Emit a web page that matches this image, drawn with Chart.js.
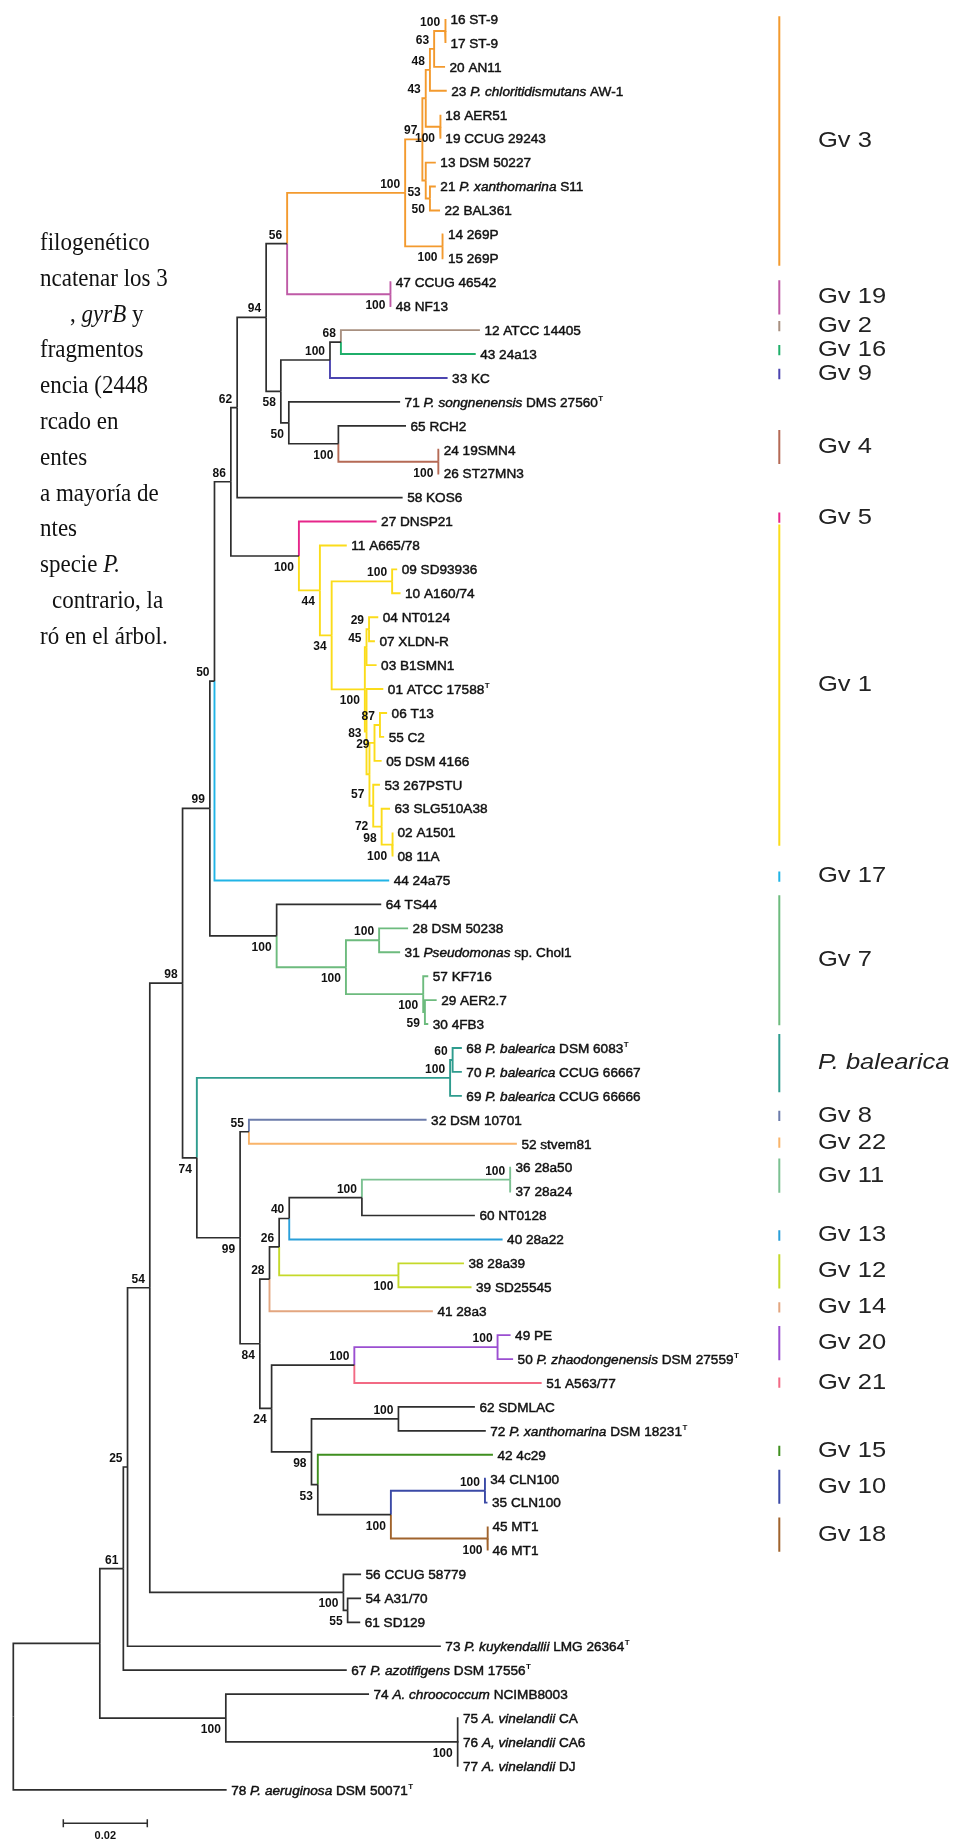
<!DOCTYPE html>
<html>
<head>
<meta charset="utf-8">
<script src="https://cdn.jsdelivr.net/npm/chart.js@4.4.1/dist/chart.umd.min.js"></script>
<style>
  html, body { margin: 0; padding: 0; background: #fff; }
  #wrap { position: relative; width: 959px; height: 1841px; }
</style>
</head>
<body>
<div id="wrap"><canvas id="tree"></canvas></div>
<script>
// Hojas del árbol, de arriba abajo (_cursiva_, ^T = cepa tipo)
const leafNames = [
  '16 ST-9', '17 ST-9', '20 AN11', '23 _P. chloritidismutans_ AW-1', '18 AER51',
  '19 CCUG 29243', '13 DSM 50227', '21 _P. xanthomarina_ S11', '22 BAL361', '14 269P',
  '15 269P', '47 CCUG 46542', '48 NF13', '12 ATCC 14405', '43 24a13',
  '33 KC', '71 _P. songnenensis_ DMS 27560^T', '65 RCH2', '24 19SMN4', '26 ST27MN3',
  '58 KOS6', '27 DNSP21', '11 A665/78', '09 SD93936', '10 A160/74',
  '04 NT0124', '07 XLDN-R', '03 B1SMN1', '01 ATCC 17588^T', '06 T13',
  '55 C2', '05 DSM 4166', '53 267PSTU', '63 SLG510A38', '02 A1501',
  '08 11A', '44 24a75', '64 TS44', '28 DSM 50238', '31 _Pseudomonas_ sp. Chol1',
  '57 KF716', '29 AER2.7', '30 4FB3', '68 _P. balearica_ DSM 6083^T', '70 _P. balearica_ CCUG 66667',
  '69 _P. balearica_ CCUG 66666', '32 DSM 10701', '52 stvem81', '36 28a50', '37 28a24',
  '60 NT0128', '40 28a22', '38 28a39', '39 SD25545', '41 28a3',
  '49 PE', '50 _P. zhaodongenensis_ DSM 27559^T', '51 A563/77', '62 SDMLAC', '72 _P. xanthomarina_ DSM 18231^T',
  '42 4c29', '34 CLN100', '35 CLN100', '45 MT1', '46 MT1',
  '56 CCUG 58779', '54 A31/70', '61 SD129', '73 _P. kuykendallii_ LMG 26364^T', '67 _P. azotifigens_ DSM 17556^T',
  '74 _A. chroococcum_ NCIMB8003', '75 _A. vinelandii_ CA', '76 _A, vinelandii_ CA6', '77 _A. vinelandii_ DJ', '78 _P. aeruginosa_ DSM 50071^T'
];

// Distancia acumulada desde la raíz de cada hoja
const leafDist = [
  0.1030, 0.1030, 0.1028, 0.1032, 0.1018, 0.1018, 0.1006, 0.1006, 0.1016, 0.1024,
  0.1024, 0.0900, 0.0900, 0.1111, 0.1101, 0.1034, 0.0921, 0.0935, 0.1014, 0.1014,
  0.0927, 0.0865, 0.0794, 0.0914, 0.0922, 0.0869, 0.0861, 0.0865, 0.0881, 0.0890,
  0.0883, 0.0877, 0.0873, 0.0897, 0.0904, 0.0904, 0.0895, 0.0876, 0.0940, 0.0921,
  0.0988, 0.1008, 0.0988, 0.1068, 0.1068, 0.1068, 0.0984, 0.1199, 0.1185, 0.1185,
  0.1099, 0.1165, 0.1073, 0.1091, 0.0999, 0.1184, 0.1190, 0.1258, 0.1099, 0.1125,
  0.1142, 0.1125, 0.1129, 0.1130, 0.1130, 0.0828, 0.0828, 0.0826, 0.1018, 0.0794,
  0.0847, 0.1060, 0.1060, 0.1060, 0.0508
];

// Nodos internos: id, distancia, hijos (número = hoja), bootstrap
const nodes = [
  ['A', 0.1028, [0, 1], 100], ['B', 0.1002, ['A', 2], 63], ['C', 0.0992, ['B', 3], 48],
  ['E', 0.1016, [4, 5], 100], ['D', 0.0982, ['C', 'E'], 43], ['I', 0.0992, [7, 8], 50],
  ['H', 0.0982, [6, 'I'], 53], ['F', 0.0974, ['D', 'H'], 97], ['K', 0.1022, [9, 10], 100],
  ['J', 0.0933, ['F', 'K'], 100], ['M', 0.0898, [11, 12], 100], ['L', 0.0652, ['J', 'M'], 56],
  ['T', 0.0780, [13, 14], 68], ['R', 0.0754, ['T', 15], 100], ['V', 0.1012, [18, 19], 100],
  ['U', 0.0774, [17, 'V'], 100], ['S', 0.0656, [16, 'U'], 50], ['P', 0.0637, ['R', 'S'], 58],
  ['N', 0.0602, ['L', 'P'], 94], ['Q', 0.0533, ['N', 20], 62], ['AA', 0.0902, [23, 24], 100],
  ['a1', 0.0847, [25, 26], 29], ['a2', 0.0841, ['a1', 27], 45], ['b1', 0.0873, [29, 30], 87],
  ['b2', 0.0860, ['b1', 31], 29], ['b6', 0.0902, [34, 35], 100], ['b5', 0.0877, [33, 'b6'], 98],
  ['b4', 0.0857, [32, 'b5'], 72], ['b3', 0.0848, ['b2', 'b4'], 57], ['c1', 0.0841, [28, 'b3'], 83],
  ['BB', 0.0837, ['a2', 'c1'], 100], ['Z', 0.0758, ['AA', 'BB'], 34], ['Y', 0.0730, [22, 'Z'], 44],
  ['X', 0.0680, [21, 'Y'], 100], ['W', 0.0518, ['Q', 'X'], 86], ['n50', 0.0479, ['W', 36], 50],
  ['II', 0.0871, [38, 39], 100], ['KK', 0.0980, [41, 42], 59], ['JJ', 0.0976, [40, 'KK'], 100],
  ['HH', 0.0792, ['II', 'JJ'], 100], ['GG', 0.0627, [37, 'HH'], 100], ['n99', 0.0468, ['n50', 'GG'], 99],
  ['MM', 0.1046, [43, 44], 60], ['LL', 0.1040, ['MM', 45], 100], ['n55', 0.0561, [46, 47], 55],
  ['G11', 0.1183, [48, 49], 100], ['n100a', 0.0830, ['G11', 50], 100], ['n40', 0.0657, ['n100a', 51], 40],
  ['G12', 0.0917, [52, 53], 100], ['n26', 0.0633, ['n40', 'G12'], 26], ['n28', 0.0610, ['n26', 54], 28],
  ['G20', 0.1153, [55, 56], 100], ['n100b', 0.0812, ['G20', 57], 100], ['n100c', 0.0917, [58, 59], 100],
  ['G10', 0.1123, [61, 62], 100], ['G18', 0.1129, [63, 64], 100], ['n100d', 0.0899, ['G10', 'G18'], 100],
  ['n53', 0.0725, [60, 'n100d'], 53], ['n98b', 0.0710, ['n100c', 'n53'], 98], ['n24', 0.0615, ['n100b', 'n98b'], 24],
  ['n84', 0.0587, ['n28', 'n24'], 84], ['n99b', 0.0540, ['n55', 'n84'], 99], ['n74', 0.0437, ['LL', 'n99b'], 74],
  ['n98', 0.0403, ['n99', 'n74'], 98], ['n55b', 0.0796, [66, 67], 55], ['n100e', 0.0786, [65, 'n55b'], 100],
  ['PP', 0.0325, ['n98', 'n100e'], 54], ['R25', 0.0272, ['PP', 68], 25], ['R61', 0.0262, ['R25', 69], 61],
  ['n100g', 0.1058, [71, 72, 73], 100], ['n100f', 0.0506, [70, 'n100g'], 100],
  ['A1', 0.0206, ['R61', 'n100f'], null], ['root', 0, ['A1', 74], null]
];

// Genomovares marcados a la derecha: nombre y primera/última hoja
const groupNames = ['Gv 3', 'Gv 19', 'Gv 2', 'Gv 16', 'Gv 9', 'Gv 4', 'Gv 5', 'Gv 1', 'Gv 17', 'Gv 7',
  'P. balearica', 'Gv 8', 'Gv 22', 'Gv 11', 'Gv 13', 'Gv 12', 'Gv 14', 'Gv 20', 'Gv 21', 'Gv 15', 'Gv 10', 'Gv 18'];
const groupRows = [[0, 10], [11, 12], [13, 13], [14, 14], [15, 15], [18, 19], [21, 21], [22, 35], [36, 36], [37, 42],
  [43, 45], [46, 46], [47, 47], [48, 49], [51, 51], [52, 53], [54, 54], [55, 56], [57, 57], [60, 60], [61, 62], [63, 64]];

// Texto del documento que queda a la izquierda
const noteLines = ['filogenético', 'ncatenar los 3', ', _gyrB_ y', 'fragmentos', 'encia (2448', 'rcado en',
  'entes', 'a mayoría de', 'ntes', 'specie _P._', 'contrario, la', 'ró en el árbol.'];

const scaleBarLen = 0.02;

// --- estilos ---
const groupColours = ['#f39a2e', '#bf5aa6', '#a89080', '#1fae6a', '#4b44b0', '#b56a55', '#e6268a', '#fbdc1a', '#21b4e6', '#6dbb7e',
  '#2e9c8e', '#6c7cab', '#f9b46a', '#7cc192', '#2a9fd9', '#c5d92a', '#e3a680', '#9b4fd1', '#f26a84', '#3f8f1f', '#3b4aa6', '#a0632c'];
// pequeños ajustes verticales (en filas) de barras y rótulos de grupo
const groupShift = { 'Gv 3': 0.26, 'Gv 19': 0.3, 'Gv 4': -0.45, 'Gv 1': -0.5, 'P. balearica': -0.2, 'Gv 22': 0.12, 'Gv 21': 0.15 };
// raíz de cada subárbol coloreado -> índice de grupo
const cladeGroup = { J: 0, M: 1, 13: 2, 14: 3, 15: 4, V: 5, 21: 6, Y: 7, 36: 8, HH: 9, LL: 10, 46: 11, 47: 12,
  G11: 13, 51: 14, G12: 15, 54: 16, G20: 17, 57: 18, 60: 19, G10: 20, G18: 21 };
// posición del bootstrap: a = encima, b = debajo, m = al lado, B = más abajo
const bootSide = { E: 'b', I: 'b', H: 'b', K: 'b', M: 'b', V: 'b', U: 'b', S: 'b', P: 'b', BB: 'b', Z: 'b', Y: 'b',
  X: 'b', KK: 'b', JJ: 'b', HH: 'b', GG: 'b', G12: 'b', G18: 'b', n100d: 'b', n53: 'b', n98b: 'b', n24: 'b',
  n84: 'b', n99b: 'b', n74: 'b', n55b: 'b', n100e: 'b', n100g: 'b', n100f: 'b', b5: 'b', b6: 'b',
  b2: 'm', c1: 'm', b3: 'B', b4: 'B' };
const bootDy = { a: -5, b: 15, m: 5, B: 24 };
const BLACK = '#2e2e2e';

// escala: 0.02 = 84 px, una fila = 23.93 px
const PX_UNIT = 4200, ROW_PX = 23.93, W = 959, H = 1841;
const xMin = -13.3 / PX_UNIT, xMax = xMin + W / PX_UNIT;
const yMin = -19 / ROW_PX, yMax = yMin + H / ROW_PX;

const nodeMap = {};
nodes.forEach(n => { nodeMap[n[0]] = { dist: n[1], kids: n[2], boot: n[3] }; });
function rowOf(id) {
  if (typeof id === 'number') return id;
  const n = nodeMap[id];
  if (n.row === undefined) n.row = (rowOf(n.kids[0]) + rowOf(n.kids[n.kids.length - 1])) / 2;
  return n.row;
}
function distOf(id) { return typeof id === 'number' ? leafDist[id] : nodeMap[id].dist; }

// ramas en codo, coloreadas por subárbol
const blackSets = [], colourSets = [];
function walk(id, colour) {
  const n = nodeMap[id];
  n.kids.forEach(k => {
    const c = cladeGroup[k] !== undefined ? groupColours[cladeGroup[k]] : colour;
    const ds = {
      data: [{ x: n.dist, y: rowOf(id) }, { x: n.dist, y: rowOf(k) }, { x: distOf(k), y: rowOf(k) }],
      borderColor: c, borderWidth: c === BLACK ? 1.7 : 1.9
    };
    (c === BLACK ? blackSets : colourSets).push(ds);
    if (typeof k !== 'number') walk(k, c);
  });
}
walk('root', BLACK);

// barras de genomovar
const barX = (779.3 - 13.3) / PX_UNIT;
const barSets = groupRows.map((r, i) => {
  const s = groupShift[groupNames[i]] || 0;
  return {
    data: [{ x: barX, y: r[0] - 0.38 + s }, { x: barX, y: r[1] + 0.05 + s }],
    borderColor: groupColours[i], borderWidth: 2
  };
});

// barra de escala
const sbX = (63.3 - 13.3) / PX_UNIT, sbY = (1823.3 - 19) / ROW_PX, tick = 0.17;
const scaleSets = [
  { data: [{ x: sbX, y: sbY }, { x: sbX + scaleBarLen, y: sbY }], borderColor: BLACK, borderWidth: 1.5 },
  { data: [{ x: sbX, y: sbY - tick }, { x: sbX, y: sbY + tick }], borderColor: BLACK, borderWidth: 1.5 },
  { data: [{ x: sbX + scaleBarLen, y: sbY - tick }, { x: sbX + scaleBarLen, y: sbY + tick }], borderColor: BLACK, borderWidth: 1.5 }
];

const datasets = [...blackSets, ...colourSets, ...barSets, ...scaleSets].map(d => Object.assign(d, {
  showLine: true, pointRadius: 0, fill: false, clip: false, tension: 0,
  borderCapStyle: 'butt', borderJoinStyle: 'miter'
}));

function richText(ctx, str, x, y, size, family, weight, stroke) {
  let sup = false;
  if (str.endsWith('^T')) { sup = true; str = str.slice(0, -2); }
  let cx = x;
  str.split('_').forEach((p, i) => {
    ctx.font = `${i % 2 ? 'italic ' : ''}${weight || ''} ${size}px ${family}`;
    ctx.fillText(p, cx, y);
    if (stroke) ctx.strokeText(p, cx, y);
    cx += ctx.measureText(p).width;
  });
  if (sup) {
    ctx.font = `bold 8px ${family}`;
    ctx.fillText('T', cx + 0.5, y - 6);
  }
}

const SANS = '"Liberation Sans", Arial, sans-serif';
const SERIF = '"Liberation Serif", "Times New Roman", serif';

const treeText = {
  id: 'treeText',
  afterDatasetsDraw(chart) {
    const { ctx, scales: { x, y } } = chart;
    ctx.save();
    ctx.fillStyle = '#111';
    ctx.strokeStyle = '#111';
    ctx.lineWidth = 0.45;
    ctx.textAlign = 'left';
    ctx.textBaseline = 'alphabetic';

    // nombres de las hojas
    leafNames.forEach((name, i) => {
      richText(ctx, name, x.getPixelForValue(leafDist[i]) + 4.5, y.getPixelForValue(i) + 4.8, 13.6, SANS, '', true);
    });

    // valores de bootstrap
    ctx.font = `bold 12px ${SANS}`;
    ctx.textAlign = 'right';
    nodes.forEach(n => {
      if (n[3] === null) return;
      const side = bootSide[n[0]] || 'a';
      ctx.fillText(String(n[3]), x.getPixelForValue(n[1]) - 5, y.getPixelForValue(rowOf(n[0])) + bootDy[side]);
    });

    // escala
    ctx.textAlign = 'center';
    ctx.textBaseline = 'middle';
    ctx.font = `bold 11px ${SANS}`;
    ctx.fillText(String(scaleBarLen), x.getPixelForValue(sbX + scaleBarLen / 2), y.getPixelForValue(sbY) + 13);

    // etiquetas de genomovar
    ctx.textAlign = 'left';
    ctx.fillStyle = '#222';
    const gx = x.getPixelForValue((818 - 13.3) / PX_UNIT);
    groupNames.forEach((g, i) => {
      const r = groupRows[i];
      const gy = y.getPixelForValue((r[0] + r[1]) / 2 - 0.17 + (groupShift[g] || 0));
      ctx.save();
      ctx.translate(gx, gy);
      ctx.scale(1.16, 1);
      ctx.font = `${g.startsWith('P.') ? 'italic ' : ''}22px ${SANS}`;
      ctx.fillText(g, 0, 0);
      ctx.restore();
    });

    // texto del documento
    ctx.fillStyle = '#111';
    ctx.textBaseline = 'alphabetic';
    noteLines.forEach((line, i) => {
      const lx = i === 2 ? 70 : (i === 10 ? 52 : 40);
      const ly = 250 + 35.8 * i;
      ctx.save();
      ctx.translate(lx, ly);
      ctx.scale(1, 1.12);
      richText(ctx, line, 0, 0, 23, SERIF);
      ctx.restore();
    });
    ctx.restore();
  }
};

new Chart(document.getElementById('tree').getContext('2d'), {
  type: 'scatter',
  data: { datasets },
  options: {
    responsive: true,
    maintainAspectRatio: false,
    animation: false,
    devicePixelRatio: 1,
    events: [],
    layout: { padding: 0 },
    plugins: { legend: { display: false }, tooltip: { enabled: false } },
    scales: {
      x: { type: 'linear', min: xMin, max: xMax, display: false },
      y: { type: 'linear', min: yMin, max: yMax, reverse: true, display: false }
    }
  },
  plugins: [treeText]
});
</script>
</body>
</html>
